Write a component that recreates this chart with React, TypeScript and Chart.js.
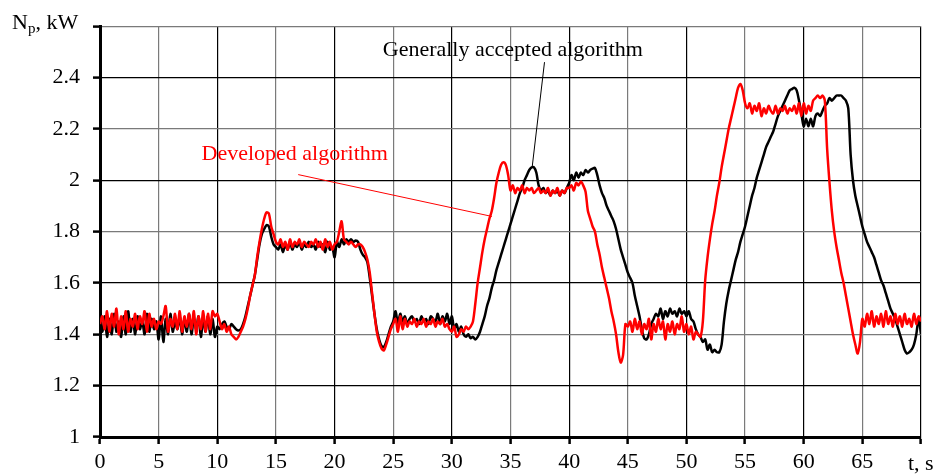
import React, { useEffect, useRef } from "react";
import { Chart, registerables } from "chart.js";

Chart.register(...registerables);

// time axis sampling (seconds) and tick labels
const T_STEP = 0.2;
const xTickValues = [0, 5, 10, 15, 20, 25, 30, 35, 40, 45, 50, 55, 60, 65, 70];
const yTickValues = [1, 1.2, 1.4, 1.6, 1.8, 2, 2.2, 2.4, 2.6];

// "Developed algorithm" (red), Np in kW, sampled every 0.2 s from 0 to 70 s
const developed = [
  1.44, 1.47, 1.42, 1.49, 1.41, 1.48, 1.43, 1.5, 1.4, 1.47, 1.42, 1.49, 1.41, 1.46, 1.43, 1.48, 1.42, 1.47, 1.44, 1.49, 1.41, 1.48, 1.43, 1.46, 1.42,
  1.45, 1.44, 1.47, 1.51, 1.41, 1.46, 1.43, 1.48, 1.42, 1.49, 1.41, 1.47, 1.43, 1.48, 1.42, 1.49, 1.4, 1.47, 1.42, 1.49, 1.41, 1.48, 1.42, 1.49, 1.47,
  1.48, 1.45, 1.42, 1.44, 1.41, 1.43, 1.4, 1.39, 1.38, 1.39, 1.41, 1.43, 1.46, 1.5, 1.55, 1.59, 1.63, 1.7, 1.76, 1.81, 1.85, 1.875, 1.87, 1.82, 1.79,
  1.76, 1.75, 1.77, 1.74, 1.76, 1.73, 1.77, 1.74, 1.76, 1.75, 1.77, 1.74, 1.76, 1.75, 1.74, 1.76, 1.75, 1.77, 1.74, 1.76, 1.73, 1.77, 1.74, 1.76, 1.73,
  1.75, 1.76, 1.8, 1.84, 1.77, 1.76, 1.75, 1.76, 1.75, 1.74, 1.75, 1.75, 1.74, 1.72, 1.69, 1.64, 1.56, 1.48, 1.41, 1.37, 1.345, 1.337, 1.36, 1.39, 1.42,
  1.44, 1.46, 1.41, 1.47, 1.42, 1.46, 1.43, 1.45, 1.44, 1.46, 1.43, 1.45, 1.44, 1.46, 1.43, 1.45, 1.44, 1.46, 1.43, 1.45, 1.44, 1.46, 1.43, 1.44, 1.42,
  1.41, 1.43, 1.39, 1.4, 1.42, 1.41, 1.43, 1.42, 1.43, 1.45, 1.52, 1.6, 1.66, 1.72, 1.77, 1.81, 1.85, 1.88, 1.93, 1.99, 2.03, 2.06, 2.07, 2.06, 2.02,
  1.96, 1.98, 1.95, 1.97, 1.96, 1.98, 1.95, 1.97, 1.96, 1.97, 1.95, 1.96, 1.97, 1.95, 1.96, 1.95, 1.97, 1.94, 1.96, 1.95, 1.97, 1.94, 1.96, 1.95, 1.97,
  1.97, 1.98, 1.96, 1.99, 1.98, 1.995, 1.98, 1.955, 1.88, 1.85, 1.82, 1.8, 1.75, 1.71, 1.66, 1.62, 1.58, 1.54, 1.49, 1.45, 1.4, 1.33, 1.29, 1.32, 1.44,
  1.43, 1.45, 1.41, 1.46, 1.42, 1.45, 1.4, 1.44, 1.42, 1.46, 1.38, 1.44, 1.41, 1.46, 1.42, 1.45, 1.38, 1.44, 1.41, 1.45, 1.4, 1.44, 1.42, 1.47, 1.41,
  1.44, 1.4, 1.43, 1.38, 1.41, 1.4, 1.39, 1.45, 1.61, 1.7, 1.77, 1.83, 1.88, 1.94, 1.99, 2.05, 2.1, 2.15, 2.2, 2.24, 2.28, 2.32, 2.36, 2.375, 2.35,
  2.3, 2.28, 2.3, 2.26, 2.29, 2.27, 2.3, 2.25, 2.28, 2.26, 2.29, 2.27, 2.26, 2.29, 2.26, 2.28, 2.27, 2.29, 2.26, 2.28, 2.27, 2.29, 2.26, 2.3, 2.25,
  2.3, 2.26, 2.29, 2.27, 2.31, 2.32, 2.33, 2.32, 2.33, 2.31, 2.12, 1.99, 1.88, 1.8, 1.74, 1.69, 1.64, 1.6, 1.55, 1.5, 1.45, 1.4, 1.36, 1.325, 1.37,
  1.46, 1.43, 1.48, 1.44, 1.49, 1.43, 1.47, 1.44, 1.48, 1.43, 1.49, 1.44, 1.47, 1.43, 1.48, 1.44, 1.47, 1.43, 1.48, 1.44, 1.46, 1.43, 1.48, 1.44, 1.47,
  1.45,
];

// "Generally accepted algorithm" (black), Np in kW, sampled every 0.2 s from 0 to 70 s
const accepted = [
  1.45, 1.41, 1.47, 1.39, 1.46, 1.4, 1.48, 1.41, 1.45, 1.39, 1.47, 1.4, 1.49, 1.41, 1.46, 1.4, 1.47, 1.42, 1.45, 1.4, 1.48, 1.41, 1.46, 1.42, 1.45,
  1.38, 1.47, 1.37, 1.46, 1.4, 1.48, 1.41, 1.45, 1.42, 1.47, 1.4, 1.46, 1.41, 1.48, 1.4, 1.46, 1.42, 1.47, 1.39, 1.46, 1.41, 1.47, 1.4, 1.46, 1.39,
  1.43, 1.42, 1.44, 1.45, 1.43, 1.42, 1.44, 1.43, 1.42, 1.415, 1.42, 1.44, 1.47, 1.51, 1.55, 1.59, 1.63, 1.69, 1.75, 1.79, 1.81, 1.825, 1.82, 1.78, 1.75,
  1.74, 1.73, 1.75, 1.72, 1.75, 1.73, 1.76, 1.73, 1.75, 1.74, 1.76, 1.73, 1.75, 1.74, 1.76, 1.74, 1.75, 1.73, 1.76, 1.74, 1.75, 1.72, 1.76, 1.73, 1.74,
  1.7, 1.76, 1.74, 1.77, 1.75, 1.77, 1.76, 1.77, 1.76, 1.765, 1.76, 1.73, 1.71, 1.7, 1.68, 1.62, 1.55, 1.48, 1.42, 1.38, 1.355, 1.35, 1.37, 1.4, 1.43,
  1.45, 1.49, 1.44, 1.48, 1.45, 1.47, 1.44, 1.46, 1.47, 1.45, 1.46, 1.44, 1.47, 1.45, 1.46, 1.44, 1.47, 1.46, 1.45, 1.48, 1.44, 1.47, 1.45, 1.48, 1.44,
  1.47, 1.42, 1.44, 1.41, 1.43, 1.4, 1.39, 1.4, 1.385, 1.39, 1.38, 1.39, 1.41, 1.44, 1.47, 1.51, 1.54, 1.58, 1.61, 1.65, 1.68, 1.71, 1.74, 1.77, 1.8,
  1.83, 1.86, 1.89, 1.92, 1.95, 1.97, 2.0, 2.02, 2.04, 2.05, 2.05, 2.03, 1.98, 1.96, 1.97, 1.95, 1.96, 1.94, 1.96, 1.95, 1.96, 1.94, 1.96, 1.95, 1.97,
  1.99, 2.02, 2.0, 2.03, 2.01, 2.03, 2.02, 2.04, 2.03, 2.04, 2.045, 2.048, 2.02, 1.98, 1.95, 1.93, 1.9, 1.88, 1.86, 1.84, 1.81, 1.77, 1.73, 1.7, 1.67,
  1.64, 1.62, 1.6, 1.55, 1.51, 1.47, 1.42, 1.385, 1.38, 1.4, 1.44, 1.46, 1.48, 1.47, 1.5, 1.46, 1.49, 1.47, 1.5, 1.48, 1.49, 1.47, 1.5, 1.48, 1.49,
  1.47, 1.49, 1.46, 1.45, 1.42, 1.4, 1.39, 1.37, 1.38, 1.34, 1.36, 1.33, 1.34, 1.33, 1.33, 1.36, 1.45, 1.52, 1.57, 1.61, 1.65, 1.69, 1.72, 1.76, 1.79,
  1.82, 1.86, 1.9, 1.94, 1.97, 2.01, 2.04, 2.07, 2.1, 2.13, 2.15, 2.17, 2.19, 2.22, 2.25, 2.27, 2.29, 2.31, 2.33, 2.35, 2.355, 2.36, 2.35, 2.31, 2.26,
  2.21, 2.24, 2.21, 2.24, 2.21, 2.25, 2.26, 2.25, 2.27, 2.29, 2.3, 2.32, 2.31, 2.32, 2.33, 2.33, 2.33, 2.32, 2.31, 2.28, 2.1, 2.0, 1.94, 1.9, 1.86,
  1.82, 1.79, 1.76, 1.74, 1.72, 1.7, 1.67, 1.64, 1.61, 1.59, 1.56, 1.53, 1.5, 1.48, 1.46, 1.43, 1.4, 1.37, 1.34, 1.325, 1.33, 1.34, 1.36, 1.4, 1.46,
  1.4,
];

// annotation anchors in data units [t, Np]
const acceptedLabelAt = [35.2, 2.505];
const acceptedLeader = [[37.9, 2.46], [36.85, 2.052]];
const developedLabelAt = [16.6, 2.1];
const developedLeader = [[16.9, 2.022], [33.42, 1.859]];

const FONT = "'Liberation Serif', 'Times New Roman', serif";
const FS = 22;

const toPoints = (vals: number[]) =>
  vals.map((v, i) => ({ x: Math.round(i * T_STEP * 10) / 10, y: v }));

const annotationPlugin = {
  id: "annotations",
  afterDatasetsDraw(chart: any) {
    const { ctx, scales } = chart;
    const xs = scales.x;
    const ys = scales.y;
    const px = (t: number) => xs.getPixelForValue(t);
    const py = (v: number) => ys.getPixelForValue(v);
    ctx.save();
    ctx.lineWidth = 1;
    ctx.strokeStyle = "#000";
    ctx.beginPath();
    ctx.moveTo(px(acceptedLeader[0][0]), py(acceptedLeader[0][1]));
    ctx.lineTo(px(acceptedLeader[1][0]), py(acceptedLeader[1][1]));
    ctx.stroke();
    ctx.strokeStyle = "#ff0000";
    ctx.beginPath();
    ctx.moveTo(px(developedLeader[0][0]), py(developedLeader[0][1]));
    ctx.lineTo(px(developedLeader[1][0]), py(developedLeader[1][1]));
    ctx.stroke();
    ctx.font = `${FS}px ${FONT}`;
    ctx.textAlign = "center";
    ctx.textBaseline = "middle";
    ctx.fillStyle = "#000";
    ctx.fillText("Generally accepted algorithm", px(acceptedLabelAt[0]), py(acceptedLabelAt[1]));
    ctx.fillStyle = "#ff0000";
    ctx.fillText("Developed algorithm", px(developedLabelAt[0]), py(developedLabelAt[1]));
    ctx.restore();
  },
  afterDraw(chart: any) {
    const { ctx, chartArea } = chart;
    ctx.save();
    ctx.fillStyle = "#000";
    ctx.textBaseline = "alphabetic";
    ctx.textAlign = "left";
    let x = chartArea.left - 88;
    const yb = chartArea.top + 3;
    ctx.font = `${FS}px ${FONT}`;
    ctx.fillText("N", x, yb);
    x += ctx.measureText("N").width;
    ctx.font = `15px ${FONT}`;
    ctx.fillText("p", x, yb + 4);
    x += ctx.measureText("p").width;
    ctx.font = `${FS}px ${FONT}`;
    ctx.fillText(", kW", x, yb);
    ctx.fillText("t, s", chartArea.right - 13, chartArea.bottom + 33);
    ctx.restore();
  },
};

export default function App() {
  const ref = useRef<HTMLCanvasElement>(null);

  useEffect(() => {
    if (!ref.current) return;
    const fmt = (v: number) => String(Number(v.toFixed(1)));
    const chart = new Chart(ref.current, {
      type: "line",
      data: {
        datasets: [
          {
            label: "Developed algorithm",
            data: toPoints(developed),
            borderColor: "#ff0000",
            borderWidth: 2.5,
            pointRadius: 0,
            tension: 0.3,
            order: 0,
          },
          {
            label: "Generally accepted algorithm",
            data: toPoints(accepted),
            borderColor: "#000000",
            borderWidth: 2.5,
            pointRadius: 0,
            tension: 0.3,
            order: 1,
          },
        ],
      },
      options: {
        responsive: false,
        animation: false,
        devicePixelRatio: 1,
        layout: { padding: { top: 24, right: 17, left: 0, bottom: 0 } },
        plugins: { legend: { display: false }, tooltip: { enabled: false } },
        scales: {
          x: {
            type: "linear",
            min: 0,
            max: 70,
            afterBuildTicks: (s: any) => {
              s.ticks = xTickValues.map((v) => ({ value: v }));
            },
            afterFit: (s: any) => {
              s.height = 39;
            },
            ticks: {
              autoSkip: false,
              maxRotation: 0,
              padding: 5,
              color: "#000",
              font: { family: FONT, size: FS },
              callback: (v: any) => (Number(v) === 70 ? "" : String(v)),
            },
            grid: {
              color: (c: any) => (c.tick && c.tick.value % 10 === 0 ? "#000" : "#7a7a7a"),
              lineWidth: 1.2,
              tickLength: 7,
              tickColor: "#000",
              tickWidth: 2.5,
            },
            border: { display: true, color: "#000", width: 3 },
          },
          y: {
            type: "linear",
            min: 1,
            max: 2.6,
            afterBuildTicks: (s: any) => {
              s.ticks = yTickValues.map((v) => ({ value: v }));
            },
            afterFit: (s: any) => {
              s.width = 100;
            },
            ticks: {
              autoSkip: false,
              padding: 13,
              color: "#000",
              font: { family: FONT, size: FS },
              callback: (v: any) => (Math.abs(Number(v) - 2.6) < 1e-6 ? "" : fmt(Number(v))),
            },
            grid: {
              color: (c: any) =>
                c.tick && Math.round(c.tick.value * 10) % 4 === 0 ? "#000" : "#7a7a7a",
              lineWidth: 1.2,
              tickLength: 7,
              tickColor: "#000",
              tickWidth: 2.5,
            },
            border: { display: true, color: "#000", width: 3 },
          },
        },
      },
      plugins: [annotationPlugin],
    } as any);
    return () => chart.destroy();
  }, []);

  return (
    <div style={{ position: "fixed", left: 0, top: 0, width: 938, height: 476, background: "#fff" }}>
      <canvas ref={ref} width={938} height={476} style={{ display: "block", width: 938, height: 476 }} />
    </div>
  );
}
